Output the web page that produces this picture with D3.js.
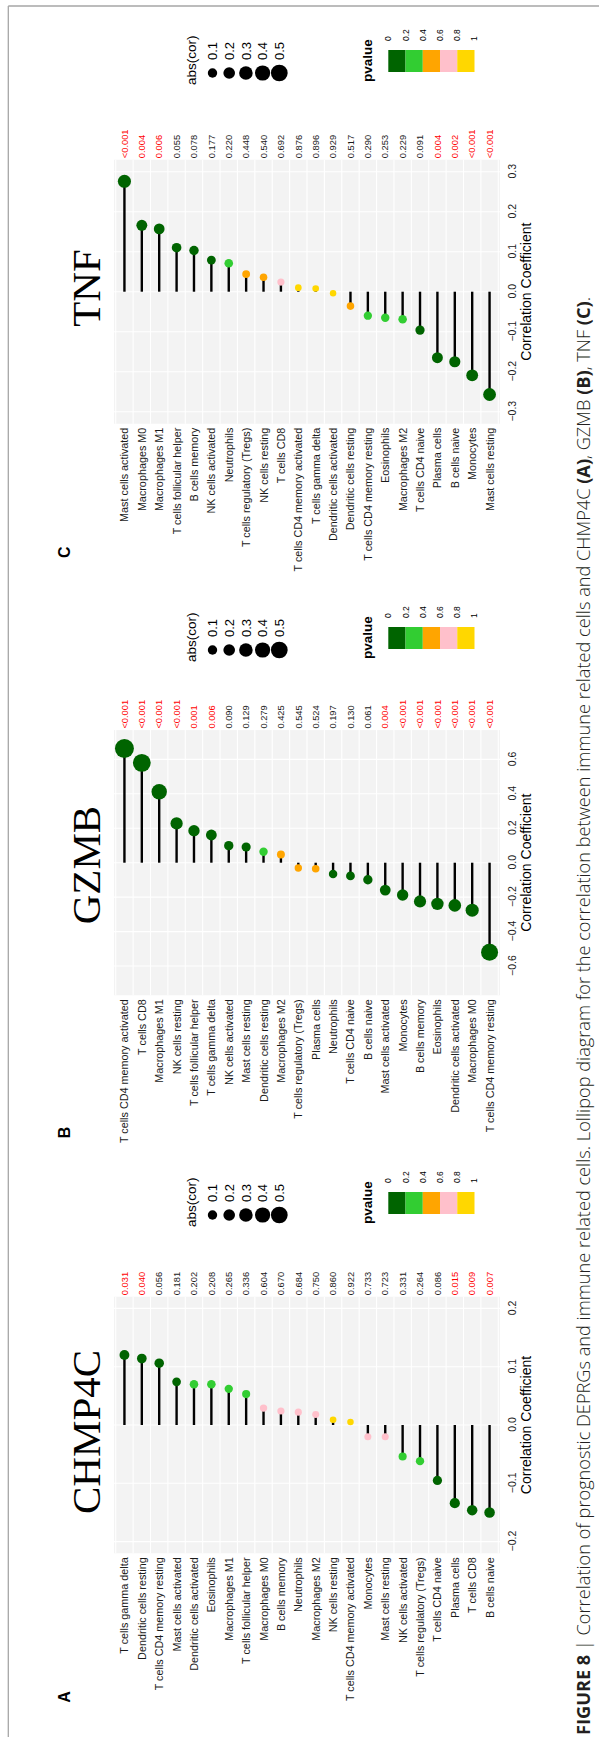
<!DOCTYPE html>
<html>
<head>
<meta charset="utf-8">
<script src="https://cdn.jsdelivr.net/npm/d3@7"></script>
<style>
  body { margin: 0; background: #fff; }
  svg { display: block; }
</style>
</head>
<body>
<div id="chart"></div>
<script>
// ---- data ----
const chmp4cCells = ["T cells gamma delta", "Dendritic cells resting", "T cells CD4 memory resting", "Mast cells activated",
  "Dendritic cells activated", "Eosinophils", "Macrophages M1", "T cells follicular helper", "Macrophages M0",
  "B cells memory", "Neutrophils", "Macrophages M2", "NK cells resting", "T cells CD4 memory activated", "Monocytes",
  "Mast cells resting", "NK cells activated", "T cells regulatory (Tregs)", "T cells CD4 naive", "Plasma cells",
  "T cells CD8", "B cells naive"];
const chmp4cCor = [0.120, 0.114, 0.106, 0.074, 0.070, 0.070, 0.062, 0.053, 0.029, 0.024, 0.022, 0.018, 0.009, 0.005,
  -0.020, -0.020, -0.054, -0.062, -0.095, -0.134, -0.146, -0.150];
const chmp4cP = ["0.031", "0.040", "0.056", "0.181", "0.202", "0.208", "0.265", "0.336", "0.604", "0.670", "0.684",
  "0.750", "0.860", "0.922", "0.733", "0.723", "0.331", "0.264", "0.086", "0.015", "0.009", "0.007"];
const chmp4cTicks = [-0.2, -0.1, 0, 0.1, 0.2];

const gzmbCells = ["T cells CD4 memory activated", "T cells CD8", "Macrophages M1", "NK cells resting",
  "T cells follicular helper", "T cells gamma delta", "NK cells activated", "Mast cells resting",
  "Dendritic cells resting", "Macrophages M2", "T cells regulatory (Tregs)", "Plasma cells", "Neutrophils",
  "T cells CD4 naive", "B cells naive", "Mast cells activated", "Monocytes", "B cells memory", "Eosinophils",
  "Dendritic cells activated", "Macrophages M0", "T cells CD4 memory resting"];
const gzmbCor = [0.663, 0.580, 0.412, 0.228, 0.186, 0.161, 0.099, 0.091, 0.064, 0.048, -0.031, -0.035, -0.066,
  -0.077, -0.099, -0.159, -0.188, -0.225, -0.239, -0.248, -0.276, -0.520];
const gzmbP = ["<0.001", "<0.001", "<0.001", "<0.001", "0.001", "0.006", "0.090", "0.129", "0.279", "0.425", "0.545",
  "0.524", "0.197", "0.130", "0.061", "0.004", "<0.001", "<0.001", "<0.001", "<0.001", "<0.001", "<0.001"];
const gzmbTicks = [-0.6, -0.4, -0.2, 0, 0.2, 0.4, 0.6];

const tnfCells = ["Mast cells activated", "Macrophages M0", "Macrophages M1", "T cells follicular helper",
  "B cells memory", "NK cells activated", "Neutrophils", "T cells regulatory (Tregs)", "NK cells resting",
  "T cells CD8", "T cells CD4 memory activated", "T cells gamma delta", "Dendritic cells activated",
  "Dendritic cells resting", "T cells CD4 memory resting", "Eosinophils", "Macrophages M2", "T cells CD4 naive",
  "Plasma cells", "B cells naive", "Monocytes", "Mast cells resting"];
const tnfCor = [0.276, 0.166, 0.157, 0.110, 0.103, 0.079, 0.071, 0.044, 0.036, 0.024, 0.010, 0.008, -0.004,
  -0.036, -0.060, -0.065, -0.069, -0.096, -0.165, -0.175, -0.209, -0.257];
const tnfP = ["<0.001", "0.004", "0.006", "0.055", "0.078", "0.177", "0.220", "0.448", "0.540", "0.692", "0.876",
  "0.896", "0.929", "0.517", "0.290", "0.253", "0.229", "0.091", "0.004", "0.002", "<0.001", "<0.001"];
const tnfTicks = [-0.3, -0.2, -0.1, 0, 0.1, 0.2, 0.3];

const pvalueBreaks = [0, 0.2, 0.4, 0.6, 0.8, 1];
const pvalueColors = ["#006400", "#32CD32", "#FFA500", "#FFC0CB", "#FFD700"];
const sizeBreaks = [0.1, 0.2, 0.3, 0.4, 0.5];

const captionParts = [
  ["FIGURE 8", true],
  [" | Correlation of prognostic DEPRGs and immune related cells. Lollipop diagram for the correlation between immune related cells and CHMP4C ", false],
  ["(A)", true], [", GZMB ", false], ["(B)", true], [", TNF ", false], ["(C)", true], [".", false]
];

// ---- layout (figure is drawn landscape, then turned to read bottom-to-top) ----
const W = 599, H = 1737;
const sans = "'Liberation Sans', Arial, Helvetica, sans-serif";
const panelTop = 114, panelBottom = 500;

const panels = [
  { key: "A", gene: "CHMP4C", cells: chmp4cCells, cor: chmp4cCor, p: chmp4cP, ticks: chmp4cTicks,
    lim: 0.22, x0: 183.7, x1: 440.3, labelX: 40, titleX: 305, legX: 510 },
  { key: "B", gene: "GZMB", cells: gzmbCells, cor: gzmbCor, p: gzmbP, ticks: gzmbTicks,
    lim: 0.77, x0: 741.7, x1: 1006.9, labelX: 604.6, titleX: 872, legX: 1075 },
  { key: "C", gene: "TNF", cells: tnfCells, cor: tnfCor, p: tnfP, ticks: tnfTicks,
    lim: 0.33, x0: 1313.3, x1: 1577.3, labelX: 1184.7, titleX: 1449, legX: 1652 }
];

const svg = d3.select("#chart").append("svg")
  .attr("width", W)
  .attr("height", H)
  .attr("viewBox", `0 0 ${W} ${H}`);

svg.append("rect").attr("width", W).attr("height", H).attr("fill", "#fff");

// landscape coordinate system: x along the page height, y along the page width
const g = svg.append("g").attr("transform", `translate(0,${H}) rotate(-90)`);

const color = d3.scaleThreshold().domain(pvalueBreaks.slice(1, -1)).range(pvalueColors);
const area = d3.scaleLinear().domain([0, 0.5]).range([40, 280]);
const radius = v => Math.sqrt(area(Math.abs(v))) / 2;
const pNum = s => s.startsWith("<") ? 0.0005 : +s;
const fmt = v => (v < 0 ? "\u2212" : "") + Math.abs(v).toFixed(1);

// frame lines
g.append("line").attr("x1", 0).attr("x2", 1731).attr("y1", 8.3).attr("y2", 8.3)
  .attr("stroke", "#a6a6a6").attr("stroke-width", 1.3);
g.append("line").attr("x1", 1731).attr("x2", 1731).attr("y1", 8.3).attr("y2", W)
  .attr("stroke", "#a6a6a6").attr("stroke-width", 1.3);

panels.forEach(pn => {
  const pg = g.append("g").attr("class", "panel-" + pn.key);
  const x = d3.scaleLinear().domain([-pn.lim, pn.lim]).range([pn.x0, pn.x1]);
  const y = d3.scalePoint().domain(pn.cells).range([panelTop, panelBottom]).padding(0.6);
  const step = y.step();

  // panel background + grid
  pg.append("rect")
    .attr("x", pn.x0).attr("y", panelTop)
    .attr("width", pn.x1 - pn.x0).attr("height", panelBottom - panelTop)
    .attr("fill", "#f3f3f3");
  pg.selectAll(".vgrid").data(pn.ticks).join("line")
    .attr("x1", d => x(d)).attr("x2", d => x(d))
    .attr("y1", panelTop).attr("y2", panelBottom)
    .attr("stroke", "#fff").attr("stroke-width", 1.1);
  const bounds = pn.cells.map(c => y(c) - step / 2).concat([y(pn.cells[pn.cells.length - 1]) + step / 2]);
  pg.selectAll(".hgrid").data(bounds).join("line")
    .attr("x1", pn.x0).attr("x2", pn.x1)
    .attr("y1", d => d).attr("y2", d => d)
    .attr("stroke", "#fff").attr("stroke-width", 1.1);

  const rows = pn.cells.map((c, i) => ({ cell: c, cor: pn.cor[i], p: pn.p[i] }));

  // sticks
  pg.selectAll(".stick").data(rows).join("line")
    .attr("x1", x(0)).attr("x2", d => x(d.cor))
    .attr("y1", d => y(d.cell)).attr("y2", d => y(d.cell))
    .attr("stroke", "#000").attr("stroke-width", 2.4);

  // heads
  pg.selectAll(".head").data(rows).join("circle")
    .attr("cx", d => x(d.cor)).attr("cy", d => y(d.cell))
    .attr("r", d => radius(d.cor))
    .attr("fill", d => color(pNum(d.p)));

  // p-value column
  pg.selectAll(".pv").data(rows).join("text")
    .attr("x", pn.x1 + 1.5).attr("y", d => y(d.cell)).attr("dy", "0.35em")
    .attr("font-family", sans).attr("font-size", 9.3)
    .attr("fill", d => pNum(d.p) < 0.05 ? "#ff0000" : "#1a1a1a")
    .text(d => d.p);

  // category axis
  const ay = pg.append("g").attr("transform", `translate(${pn.x0},0)`)
    .call(d3.axisLeft(y).tickSize(0).tickPadding(4));
  ay.select(".domain").remove();
  ay.selectAll("text").attr("font-family", sans).attr("font-size", 10.8).attr("fill", "#1a1a1a");

  // value axis
  const ax = pg.append("g").attr("transform", `translate(0,${panelBottom})`)
    .call(d3.axisBottom(x).tickValues(pn.ticks).tickSize(0).tickPadding(9).tickFormat(fmt));
  ax.select(".domain").remove();
  ax.selectAll("text").attr("font-family", sans).attr("font-size", 10.5).attr("fill", "#1a1a1a");

  pg.append("text")
    .attr("x", (pn.x0 + pn.x1) / 2).attr("y", 530.5)
    .attr("text-anchor", "middle")
    .attr("font-family", sans).attr("font-size", 14).attr("fill", "#000")
    .text("Correlation Coefficient");

  // gene title and panel letter
  pg.append("text")
    .attr("x", pn.titleX).attr("y", 100)
    .attr("text-anchor", "middle")
    .attr("font-family", "'Liberation Serif', 'Times New Roman', serif")
    .attr("font-size", 41).attr("fill", "#000")
    .text(pn.gene);
  pg.append("text")
    .attr("x", pn.labelX).attr("y", 70)
    .attr("text-anchor", "middle")
    .attr("font-family", sans).attr("font-weight", "bold").attr("font-size", 16).attr("fill", "#000")
    .text(pn.key);

  // size legend
  const lg = pg.append("g").attr("transform", `translate(${pn.legX},0)`);
  lg.append("text").attr("x", 0).attr("y", 196)
    .attr("font-family", sans).attr("font-size", 13.5).attr("fill", "#000")
    .text("abs(cor)");
  const keyY = d3.scalePoint().domain(sizeBreaks).range([212.5, 279.3]);
  lg.selectAll(".sz").data(sizeBreaks).join("circle")
    .attr("cx", 12).attr("cy", d => keyY(d)).attr("r", d => radius(d)).attr("fill", "#000");
  lg.selectAll(".szl").data(sizeBreaks).join("text")
    .attr("x", 25).attr("y", d => keyY(d)).attr("dy", "0.36em")
    .attr("font-family", sans).attr("font-size", 13).attr("fill", "#000")
    .text(d => d.toFixed(1));

  // p-value legend
  lg.append("text").attr("x", 3).attr("y", 372)
    .attr("font-family", sans).attr("font-weight", "bold").attr("font-size", 13.5).attr("fill", "#000")
    .text("pvalue");
  const barY = d3.scaleLinear().domain([0, 1]).range([388.3, 474.5]);
  lg.selectAll(".bin").data(pvalueColors).join("rect")
    .attr("x", 13).attr("width", 22)
    .attr("y", (d, i) => barY(pvalueBreaks[i]))
    .attr("height", (d, i) => barY(pvalueBreaks[i + 1]) - barY(pvalueBreaks[i]))
    .attr("fill", d => d);
  lg.selectAll(".binl").data(pvalueBreaks).join("text")
    .attr("x", 44).attr("y", d => barY(d)).attr("dy", "0.35em")
    .attr("font-family", sans).attr("font-size", 8.5).attr("fill", "#000")
    .text(d => d === 0 || d === 1 ? d3.format("d")(d) : d.toFixed(1));
});

// caption
const cap = g.append("text")
  .attr("x", 2).attr("y", 590)
  .attr("font-family", "'Open Sans', 'Liberation Sans', sans-serif")
  .attr("font-size", 18).attr("fill", "#231f20");
captionParts.forEach(([t, b]) => cap.append("tspan").attr("font-weight", b ? 700 : 300).text(t));
const capLen = cap.node().getComputedTextLength();
cap.attr("font-size", 18 * 1439 / capLen);
</script>
</body>
</html>
